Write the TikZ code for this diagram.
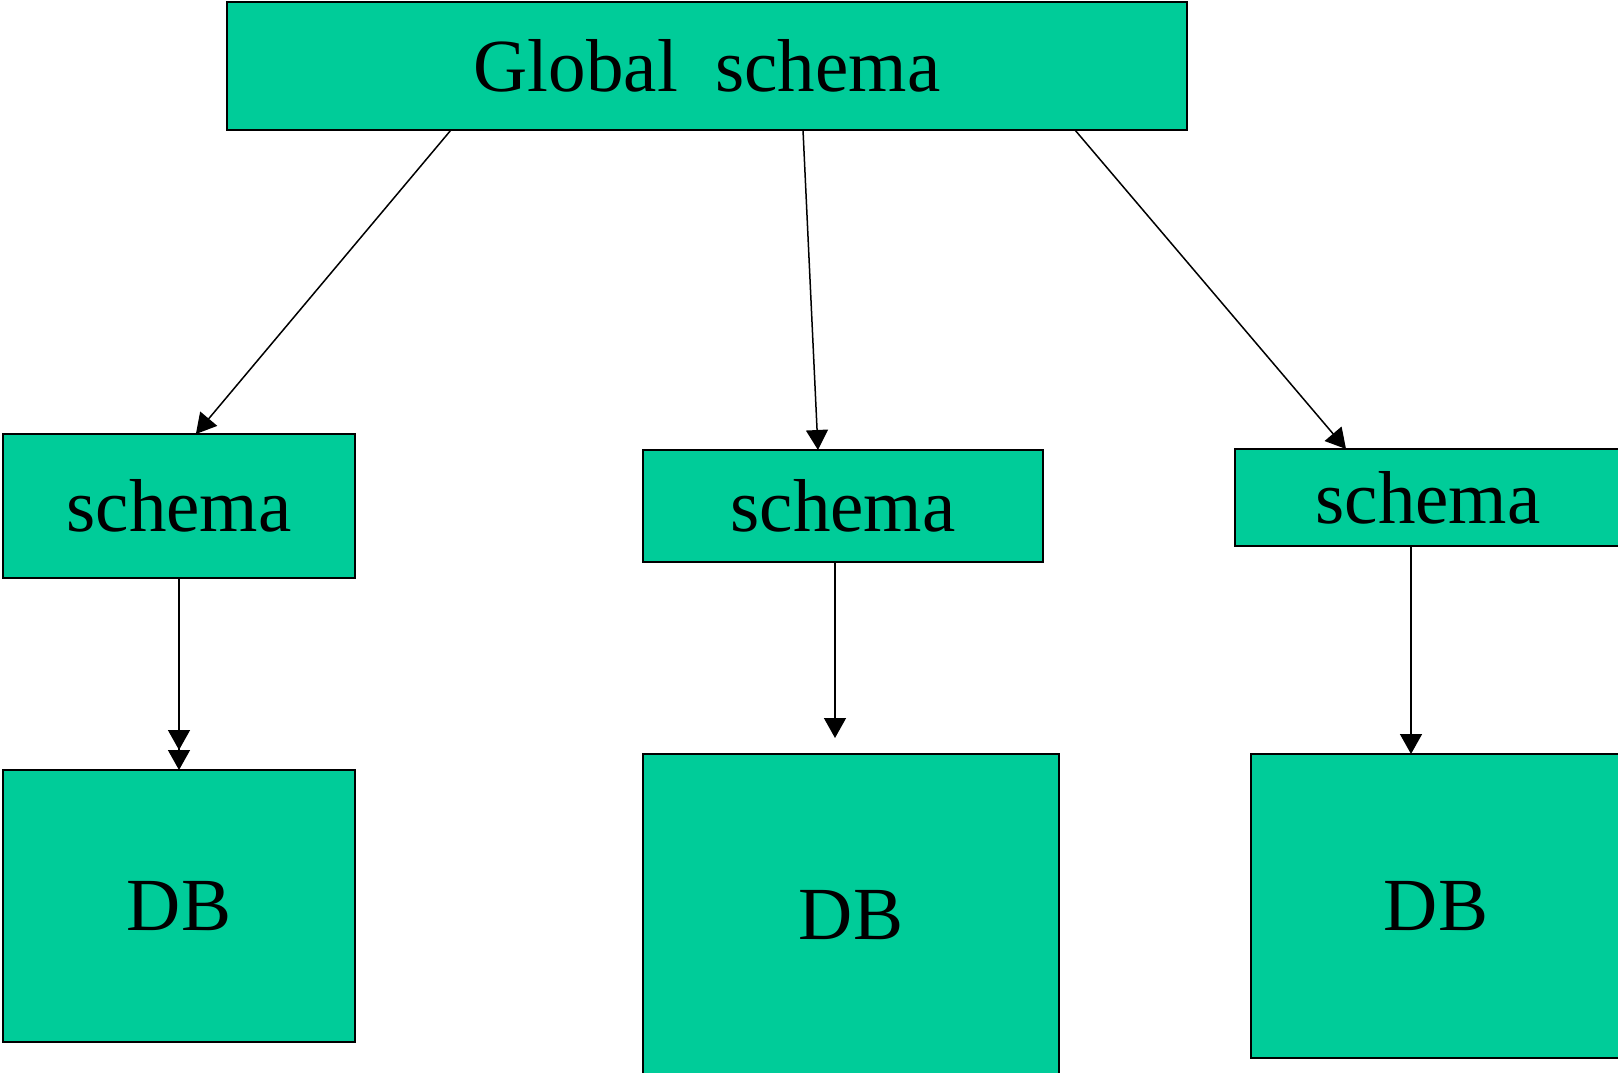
\documentclass[tikz,border=0pt]{standalone}
\usepackage{fontspec}
\setmainfont{Liberation Serif}
\usetikzlibrary{arrows.meta,calc}
\definecolor{boxgreen}{RGB}{0,204,153}
\begin{document}
\begin{tikzpicture}[x=1pt,y=-1pt,
  box/.style={draw=black,line width=1.6pt,fill=boxgreen,inner sep=0pt,outer sep=0pt,
    font=\fontsize{75}{90}\selectfont},
  arr/.style={line width=1.5pt,-{Triangle[width=22pt,length=20pt]}},
  darr/.style={line width=1.5pt,-{Triangle[width=22pt,length=20pt]Triangle[width=22pt,length=20pt]}}]
\useasboundingbox (0,0) rectangle (1618,1073);
\clip (0,0) rectangle (1618,1073);
\node[box,minimum width=960pt,minimum height=128pt] (G) at (707,66) {Global\ \ schema};
\node[box,minimum width=352pt,minimum height=144pt] (S1) at (179,506) {schema};
\node[box,minimum width=400pt,minimum height=112pt] (S2) at (843,506) {schema};
\node[box,minimum width=386pt,minimum height=97pt] (S3) at (1428,497.5) {schema};
\node[box,minimum width=352pt,minimum height=272pt] (D1) at (179,906) {DB};
\node[box,minimum width=416pt,minimum height=322pt] (D2) at (851,915) {DB};
\node[box,minimum width=370pt,minimum height=304pt] (D3) at (1436,906) {DB};
\draw[arr] ($(G.south west)!0.2333!(G.south east)$) -- ($(S1.north west)!0.548!(S1.north east)$);
\draw[arr] ($(G.south west)!0.6!(G.south east)$) -- ($(S2.north west)!0.4375!(S2.north east)$);
\draw[arr] ($(G.south west)!0.8833!(G.south east)$) -- ($(S3.north west)!0.2876!(S3.north east)$);
\draw[darr] (S1.south) -- (D1.north);
\draw[arr,shorten >=16pt] ($(S2.south)+(-8,0)$) -- ($(D2.north)+(-16,0)$);
\draw[arr] ($(S3.south)+(-17,0)$) -- ($(D3.north)+(-25,0)$);
\end{tikzpicture}
\end{document}
